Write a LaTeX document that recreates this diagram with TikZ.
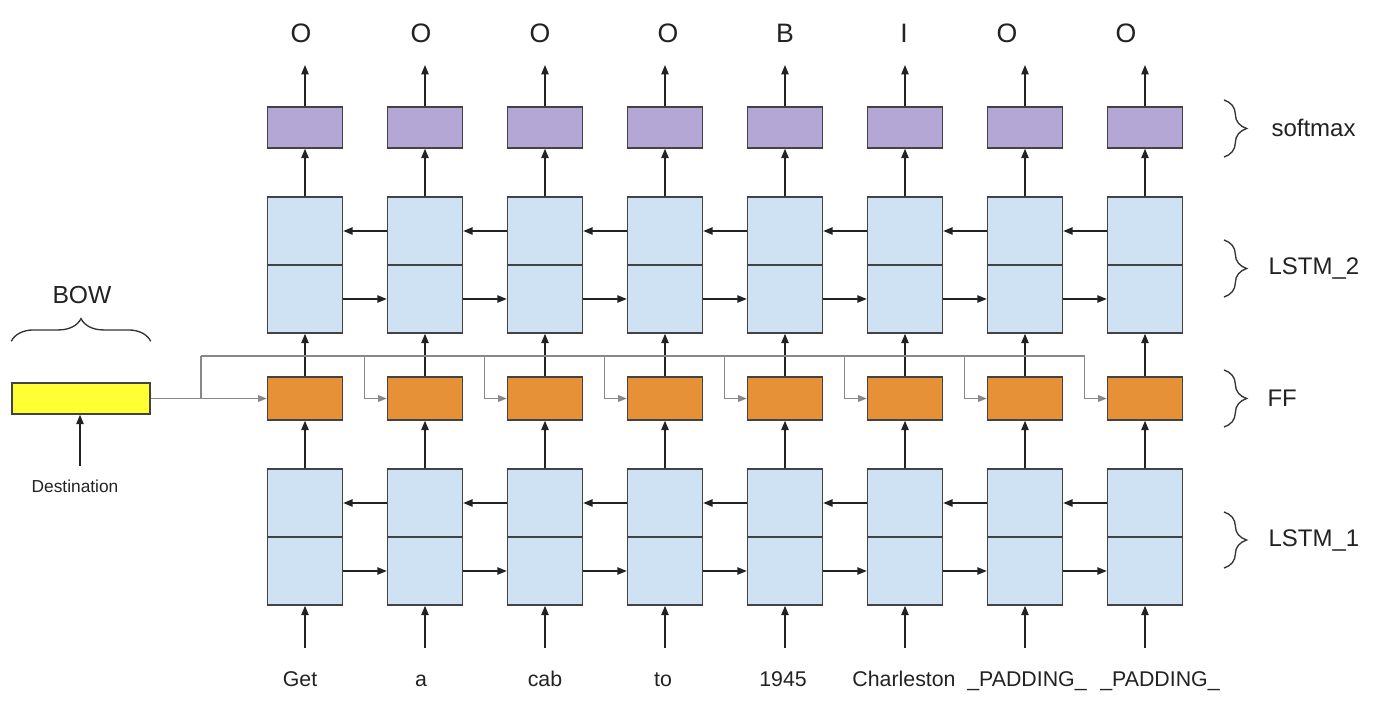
\documentclass[tikz,border=0pt]{standalone}
\usepackage{fontspec}
\setmainfont{Liberation Sans}
\usetikzlibrary{arrows.meta,decorations.pathreplacing}

\tikzset{every picture/.style={line width=0.75pt}}

\begin{document}
\begin{tikzpicture}[x=0.75pt,y=0.75pt,yscale=-1,xscale=1,
  cell/.style={draw={rgb, 255:red, 67; green, 67; blue, 67 }, line width=1.1pt, inner sep=0pt, minimum width=56.25pt},
  lstm/.style={cell, fill={rgb, 255:red, 207; green, 226; blue, 243 }, minimum height=51pt},
  smbox/.style={cell, fill={rgb, 255:red, 180; green, 167; blue, 214 }, minimum height=30.75pt},
  ffbox/.style={cell, fill={rgb, 255:red, 230; green, 145; blue, 56 }, minimum height=32.25pt},
  bowbox/.style={cell, fill={rgb, 255:red, 255; green, 255; blue, 51 }, minimum width=103.5pt, minimum height=23.25pt},
  arr/.style={draw={rgb, 255:red, 34; green, 34; blue, 34 }, line width=1pt, -{Triangle[length=7pt,width=5.5pt]}},
  feed/.style={draw={rgb, 255:red, 136; green, 136; blue, 136 }, line width=0.8pt},
  feedarr/.style={feed, -{Triangle[length=6.5pt,width=5pt]}},
  brc/.style={draw={rgb, 255:red, 51; green, 51; blue, 51 }, line width=1pt, decorate, decoration={brace, amplitude=17pt}},
  outlbl/.style={inner sep=0.75pt, text height=15pt, text depth=0pt, font=\fontsize{20}{24}\selectfont, text={rgb, 255:red, 34; green, 34; blue, 34 }},
  word/.style={inner sep=0.75pt, text height=12pt, text depth=3.5pt, font=\fontsize{16}{19}\selectfont, text={rgb, 255:red, 34; green, 34; blue, 34 }},
  side/.style={inner sep=0.75pt, anchor=west, font=\fontsize{18}{22}\selectfont, text={rgb, 255:red, 34; green, 34; blue, 34 }}]
\useasboundingbox (0,0) rectangle (1396,704);

%Columns: boxes, inputs and outputs
\foreach \i/\x/\o/\ox/\w/\wx in {1/305/O/301/Get/300, 2/425/O/421/a/421, 3/545/O/540/cab/545, 4/665/O/668/to/663, 5/785/B/785/1945/783, 6/905/I/904/Charleston/904, 7/1025/O/1007/\_PADDING\_/1027, 8/1145/O/1126/\_PADDING\_/1160} {
  \node[smbox] (sm\i) at (\x,127.5) {};
  \node[lstm] (l2a\i) at (\x,231) {};
  \node[lstm] (l2b\i) at (\x,299) {};
  \node[ffbox] (ff\i) at (\x,398.5) {};
  \node[lstm] (l1a\i) at (\x,503) {};
  \node[lstm] (l1b\i) at (\x,571) {};
  % Text Node
  \node[outlbl] (o\i) at (\ox,32) {\o};
  % Text Node
  \node[word] (w\i) at (\wx,681) {\w};
  \coordinate (in\i) at (\x,648);
  \coordinate (out\i) at (\x,65);
  \draw[arr] (in\i) -- (l1b\i);
  \draw[arr] (l1a\i) -- (ff\i);
  \draw[arr] (ff\i) -- (l2b\i);
  \draw[arr] (l2a\i) -- (sm\i);
  \draw[arr] (sm\i) -- (out\i);
}

%Recurrent arrows, backward in the upper half, forward in the lower half
\foreach \i/\j in {1/2,2/3,3/4,4/5,5/6,6/7,7/8} {
  \draw[arr] (l2a\j) -- (l2a\i);
  \draw[arr] (l2b\i) -- (l2b\j);
  \draw[arr] (l1a\j) -- (l1a\i);
  \draw[arr] (l1b\i) -- (l1b\j);
}

%Shape: BOW input
\node[bowbox] (bow) at (81,398.5) {};
% Text Node
\node[inner sep=0.75pt, font=\fontsize{18.5}{22}\selectfont, text={rgb, 255:red, 34; green, 34; blue, 34 }] (bowlbl) at (82,295) {BOW};
\draw[brc] ([yshift=-30.75pt]bow.north west) -- ([yshift=-30.75pt]bow.north east);
% Text Node
\node[inner sep=0.75pt, font=\fontsize{13}{16}\selectfont, text={rgb, 255:red, 34; green, 34; blue, 34 }] (dest) at (75,486) {Destination};
\coordinate (dstin) at (80,466);
\draw[arr] (dstin) -- (dstin |- bow.south);

%Lines: BOW fed into every FF
\coordinate (j0) at (201,398.5);
\coordinate (bus) at (201,356);
\draw[feedarr] (bow) -- (ff1);
\draw[feed] (j0) -- (bus);
\foreach \i in {2,...,8} {
  \draw[feedarr] (bus) -| ([xshift=-16.5pt]ff\i.west) -- (ff\i.west);
}

%Braces and layer names
\draw[brc] (1224,100) -- (1224,157);
\draw[brc] (1224,240) -- (1224,297);
\draw[brc] (1224,370) -- (1224,427);
\draw[brc] (1224,512) -- (1224,568);
% Text Node
\node[side] (lsm) at (1270,128) {softmax};
% Text Node
\node[side] (ll2) at (1267,268) {LSTM\_2};
% Text Node
\node[side] (lff) at (1266,398) {FF};
% Text Node
\node[side] (ll1) at (1267,540) {LSTM\_1};
\end{tikzpicture}
\end{document}
